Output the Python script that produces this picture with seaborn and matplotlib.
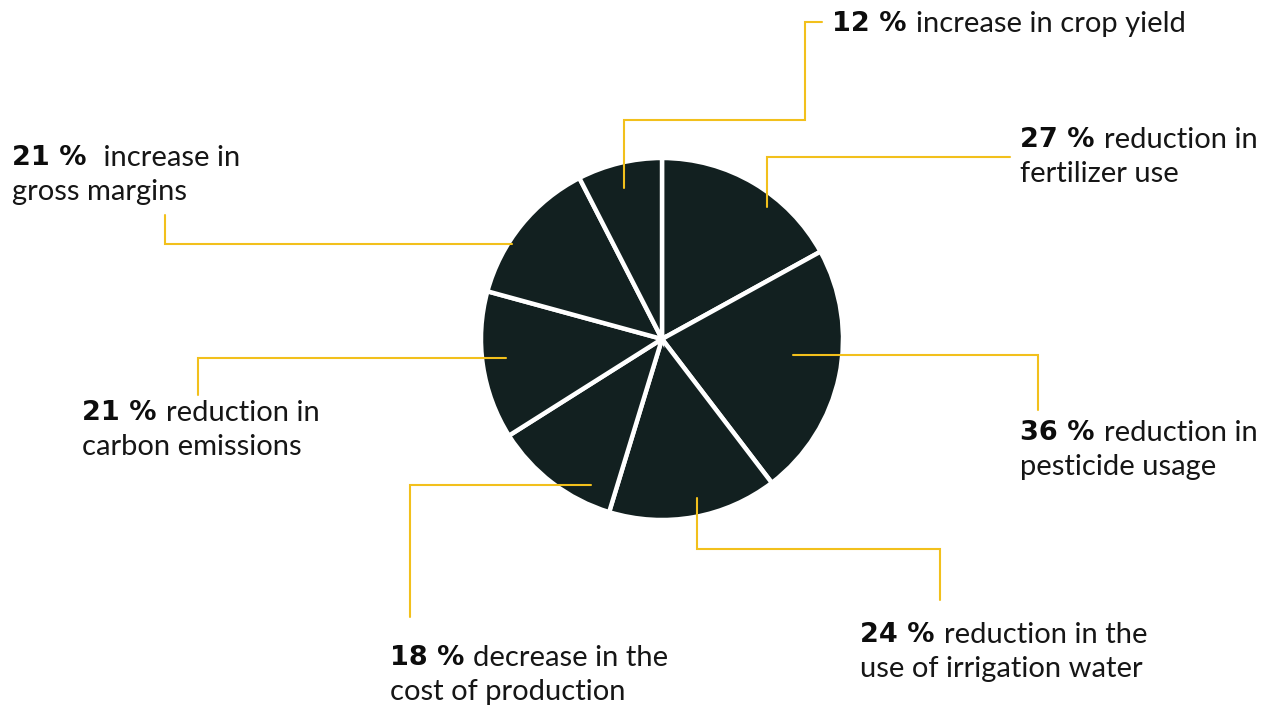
import numpy as np
import matplotlib
matplotlib.use("Agg")
import matplotlib.pyplot as plt
import seaborn as sns

# data (clockwise from 12 o'clock)
values = [27, 36, 24, 18, 21, 21, 12]
bold_parts = ["27 %", "36 %", "24 %", "18 %", "21 %", "21 %", "12 %"]
rest_line1 = ["reduction in", "reduction in", "reduction in the", "decrease in the",
              "reduction in", " increase in", "increase in crop yield"]
rest_line2 = ["fertilizer use", "pesticide usage", "use of irrigation water",
              "cost of production", "carbon emissions", "gross margins", ""]

# layout, in pixels from top-left of the 1268x710 picture
W, H = 1268, 710
pie_center = (662, 339)
pie_radius = 181
anchor_t = [0.63, 0.44, 0.46, 0.22, 0.53, 0.36, 0.48]
anchor_r = [0.93, 0.73, 0.90, 0.90, 0.87, 0.98, 0.86]
legs = [
    [("v", 157), ("h", 1010)],
    [("h", 1038), ("v", 410)],
    [("v", 549), ("h", 940), ("v", 600)],
    [("h", 410), ("v", 617)],
    [("h", 198), ("v", 395)],
    [("h", 165), ("v", 215)],
    [("v", 120), ("h", 805), ("v", 22), ("h", 822)],
]
text_pos = [(1020, 147), (1020, 440), (860, 642), (390, 665),
            (82, 420), (12, 165), (832, 31)]
line_gap = 35

dark = "#122020"
gold = "#F2C01C"
ink = "#161616"

sns.set_theme(style="white")
plt.rcParams["font.family"] = ["Lato", "DejaVu Sans"]

fig = plt.figure(figsize=(W / 100, H / 100), dpi=100)
ax = fig.add_axes([0, 0, 1, 1])

def py(y):
    return H - y

wedges, _ = ax.pie(values, startangle=90, counterclock=False, colors=[dark],
                   center=(pie_center[0], py(pie_center[1])), radius=pie_radius,
                   wedgeprops=dict(edgecolor="white", linewidth=3.2))

for i, w in enumerate(wedges):
    ang = np.deg2rad(w.theta2 - anchor_t[i] * (w.theta2 - w.theta1))
    r = anchor_r[i] * pie_radius
    x = pie_center[0] + r * np.cos(ang)
    y = py(pie_center[1]) + r * np.sin(ang)
    xs, ys = [x], [y]
    for kind, v in legs[i]:
        if kind == "v":
            y = py(v)
        else:
            x = v
        xs.append(x)
        ys.append(y)
    ax.plot(xs, ys, color=gold, lw=1.5, solid_joinstyle="miter", zorder=1)

    tx, ty = text_pos[i]
    tb = ax.text(tx, py(ty), bold_parts[i], fontsize=19.5, fontweight="bold",
                 family="DejaVu Sans", color="#0d0d0d", ha="left", va="baseline")
    ax.annotate(rest_line1[i], xy=(1, 0), xycoords=tb, xytext=(6.5, 0),
                textcoords="offset points", fontsize=21, color=ink,
                ha="left", va="bottom")
    if rest_line2[i]:
        ax.text(tx, py(ty + line_gap), rest_line2[i], fontsize=21, color=ink,
                ha="left", va="baseline")

ax.set_xlim(0, W)
ax.set_ylim(0, H)
ax.set_aspect("equal")
ax.axis("off")

fig.savefig("out.png", dpi=100)
